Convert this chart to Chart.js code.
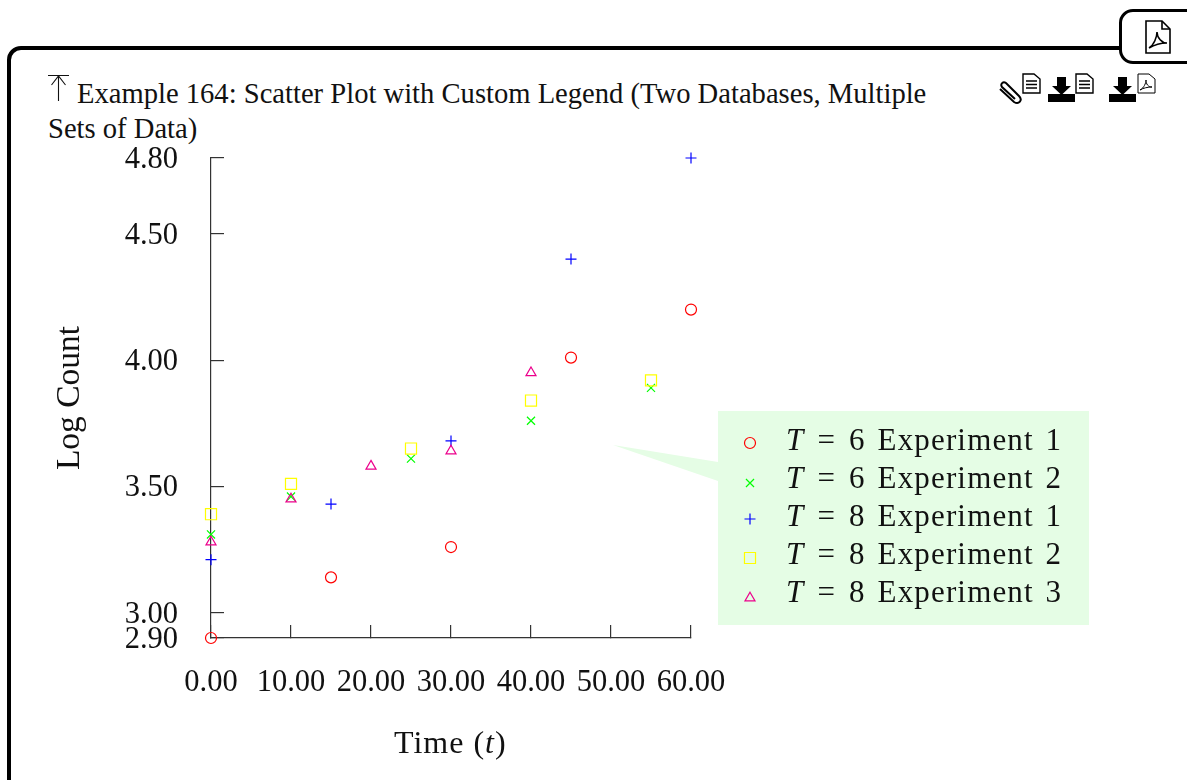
<!DOCTYPE html>
<html><head><meta charset="utf-8">
<script src="https://cdn.jsdelivr.net/npm/chart.js@4"></script>
<style>
html,body{margin:0;padding:0;background:#fff;width:1187px;height:780px;overflow:hidden;font-family:"Liberation Serif",serif;color:#111}
.abs{position:absolute;white-space:nowrap}
#card{position:absolute;left:7px;top:46px;width:1300px;height:900px;border:4px solid #000;border-radius:14px;box-sizing:border-box}
#tab{position:absolute;left:1119px;top:9px;width:120px;height:55px;border:3px solid #000;border-radius:14px;background:#fff;box-sizing:border-box}
canvas{position:absolute;left:0;top:0}
.leg{font-size:31px;line-height:34px;color:#111;letter-spacing:1.15px;word-spacing:3px}
</style></head><body>
<div id="card"></div><div id="tab"></div>
<svg class="abs" style="left:1144px;top:20px" width="28" height="34" viewBox="0 0 28 34" fill="none" stroke="#000" stroke-width="1.6"><path d="M2 1H18L26 9V33H2Z"/><path d="M18 1V9H26"/><path d="M5 28C10 25 13 17 13 12C13 18 18 23 23 23C18 23 10 25 5 28Z"/></svg>
<svg class="abs" style="left:48px;top:74px" width="22" height="28" viewBox="0 0 22 28" fill="none" stroke="#111" stroke-width="1.1"><path d="M0 1.500H21M10.500 1.500V27M3.500 11L10.500 2L17.500 11"/></svg>
<div class="abs" id="t1" style="left:77px;top:77px;font-size:28.6px;line-height:34px">Example 164: Scatter Plot with Custom Legend (Two Databases, Multiple</div>
<div class="abs" id="t2" style="left:48px;top:112px;font-size:28.6px;line-height:34px">Sets of Data)</div>
<svg class="abs" style="left:998px;top:72px" width="160" height="34" viewBox="0 0 160 34" fill="none" stroke="#000">
<path d="M2 17L16 30C21 33 25 28 21 24L8 11C5 9 2 12 4 15L17 27" stroke-width="2"/>
<g stroke-width="1.4"><path d="M25 2H36L42 7V21H25Z"/><path d="M28 9H39M28 12.500H39M28 16H39"/></g>
<path d="M59 5H68V14H73L63.500 23L54 14H59Z" fill="#000" stroke="none"/><path d="M50 22H77V30H50Z" fill="#000" stroke="none"/>
<g stroke-width="1.4"><path d="M78 2H89L95 7V21H78Z"/><path d="M81 9H92M81 12.500H92M81 16H92"/></g>
<path d="M120 5H129V14H134L124.500 23L115 14H120Z" fill="#000" stroke="none"/><path d="M111 22H138V30H111Z" fill="#000" stroke="none"/>
<g stroke-width="1"><path d="M140 2H151L157 7V21H140Z"/><path d="M142 18C146 16 148 11 148 8C148 12 150 15 154 15C150 15 145 16 142 18Z"/></g>
</svg>
<canvas id="c" width="1187" height="780"></canvas>
<div class="abs" id="xt" style="left:394px;top:725px;font-size:32px;line-height:34px;letter-spacing:1px">Time (<i>t</i>)</div>
<div id="legendText"></div>
<script>
const xTicks=[0,10,20,30,40,50,60];
const yTicks=[2.9,3,3.5,4,4.5,4.8];
const seriesT=[6,6,8,8,8];
const seriesExp=[1,2,1,2,3];
const colors=['#ff0000','#00ff00','#0000ff','#ffff00','#ec008c'];
const styles=['circle','crossRot','cross','rect','triangle'];
const radii=[5.5,5.7,5.5,7.8,5.8];
const x1=[0,15,30,45,60];
const y1=[2.90,3.14,3.26,4.01,4.20];
const x2=[0,10,25,40,55];
const y2=[3.31,3.46,3.61,3.76,3.89];
const x3=[0,15,30,45,60];
const y3=[3.21,3.43,3.68,4.40,4.80];
const x4=[0,10,25,40,55];
const y4=[3.39,3.51,3.65,3.84,3.92];
const x5=[0,10,20,30,40];
const y5=[3.28,3.45,3.58,3.64,3.95];
const xs=[x1,x2,x3,x4,x5], ys=[y1,y2,y3,y4,y5];
const legendMarkerY=[443,483,519,558,598];
const legendTextTop=[423,461,499,537,575];
const legendFill='#e5fde5';

document.getElementById('legendText').innerHTML=seriesT.map((t,i)=>
 `<div class="abs leg" style="left:786px;top:${legendTextTop[i]}px"><i>T</i><span style="margin:0 13px">=</span>${t} Experiment ${seriesExp[i]}</div>`).join('');

const legendPlugin={id:'boxLegend',beforeDatasetsDraw(chart){
  const c=chart.ctx;c.save();
  c.fillStyle=legendFill;
  c.fillRect(718,411,371,214);
  c.beginPath();c.moveTo(613,445);c.lineTo(718,462);c.lineTo(718,481);c.closePath();c.fill();
  styles.forEach((s,i)=>{
    c.strokeStyle=colors[i];c.fillStyle='transparent';c.lineWidth=1.2;
    Chart.helpers.drawPoint(c,{pointStyle:s,radius:radii[i],rotation:0,borderWidth:1.2},750,legendMarkerY[i]);
  });
  c.restore();
}};

const axisColor='#333';
new Chart(document.getElementById('c'),{
 type:'scatter',
 data:{datasets:xs.map((xv,i)=>({
   label:`T = ${seriesT[i]} Experiment ${seriesExp[i]}`,
   data:xv.map((x,j)=>({x,y:ys[i][j]})),
   pointStyle:styles[i],pointRadius:radii[i],pointBorderColor:colors[i],pointBackgroundColor:'transparent',
   pointBorderWidth:1.2,showLine:false,clip:false,order:5-i
 }))},
 plugins:[legendPlugin],
 options:{
  responsive:false,animation:false,devicePixelRatio:1,
  layout:{padding:{left:50,right:496,top:158,bottom:0}},
  plugins:{legend:{display:false},tooltip:{enabled:false}},
  scales:{
   x:{type:'linear',min:0,max:60,
      afterBuildTicks(s){s.ticks=xTicks.map(value=>({value}))},
      afterFit(s){s.height=142},
      grid:{drawOnChartArea:false,tickLength:-13,color:axisColor,lineWidth:1.2},
      border:{color:axisColor,width:1.2},
      ticks:{autoSkip:false,maxRotation:0,padding:40,color:'#111',font:{family:'Liberation Serif',size:30.5},callback:v=>v.toFixed(2)}},
   y:{type:'linear',min:2.9,max:4.8,
      afterBuildTicks(s){s.ticks=yTicks.map(value=>({value}))},
      afterFit(s){s.width=161},
      grid:{drawOnChartArea:false,tickLength:-13,color:axisColor,lineWidth:1.2},
      border:{color:axisColor,width:1.2},
      title:{display:true,text:'Log Count',color:'#111',font:{family:'Liberation Serif',size:33.5},padding:{top:0,bottom:0}},
      ticks:{autoSkip:false,padding:46,labelOffset:2,color:'#111',font:{family:'Liberation Serif',size:30.5},callback:v=>v.toFixed(2)}}
  }
 }
});
</script>
</body></html>
